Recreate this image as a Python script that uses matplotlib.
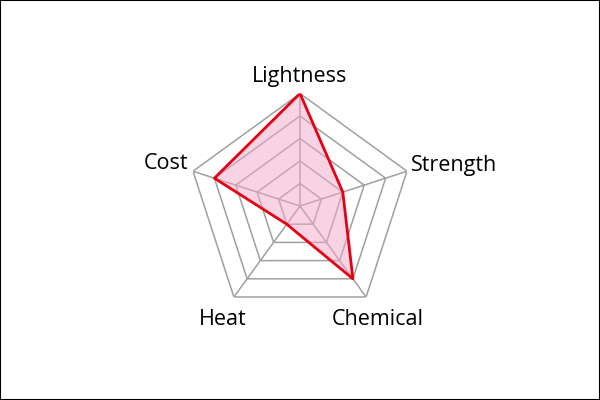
import numpy as np
import matplotlib
matplotlib.use("Agg")
import matplotlib.pyplot as plt
from matplotlib.patches import Rectangle

categories = ["Lightness", "Strength", "Chemical", "Heat", "Cost"]
values = [5, 2, 4, 1, 4]
ring_levels = [1, 2, 3, 4, 5]

plt.rcParams['font.family'] = ['Open Sans', 'DejaVu Sans']

fig = plt.figure(figsize=(6, 4), dpi=100)
fig.patch.set_facecolor("white")

cx, cy, R = 300, 206, 112.5
W, H = 600, 400
ax = fig.add_axes([(cx - R) / W, (H - cy - R) / H, 2 * R / W, 2 * R / H], projection="polar")
ax.set_theta_offset(np.pi / 2)
ax.set_theta_direction(-1)
ax.set_ylim(0, max(ring_levels))
ax.axis("off")

n = len(categories)
theta = np.arange(n) * 2 * np.pi / n
theta_closed = np.append(theta, theta[0])

grid_color = "#a0a0a0"
for lvl in ring_levels:
    ax.plot(theta_closed, [lvl] * (n + 1), color=grid_color, lw=1.1, zorder=1)
for t in theta:
    ax.plot([t, t], [0, max(ring_levels)], color=grid_color, lw=1.1, zorder=1)

vals_closed = np.append(values, values[0])
ax.fill(theta_closed, vals_closed, color="#f0a8c8", alpha=0.5, lw=0, zorder=2)
ax.plot(theta_closed, vals_closed, color="#e60012", lw=2.0, zorder=3)

offsets = {
    "Lightness": ((0, 17), "center"),
    "Strength": ((4, 6), "left"),
    "Chemical": ((12, -22), "center"),
    "Heat": ((-11, -22), "center"),
    "Cost": ((-5, 8), "right"),
}
for t, lab in zip(theta, categories):
    off, ha = offsets[lab]
    ax.annotate(lab, xy=(t, max(ring_levels)), xytext=off, textcoords="offset pixels",
                ha=ha, va="center", fontsize=15.5, color="black", fontweight="medium")

fig.add_artist(Rectangle((0, 0), 1, 1, transform=fig.transFigure, fill=False,
                         edgecolor="black", lw=1.5))

fig.savefig("out.png", dpi=100)
